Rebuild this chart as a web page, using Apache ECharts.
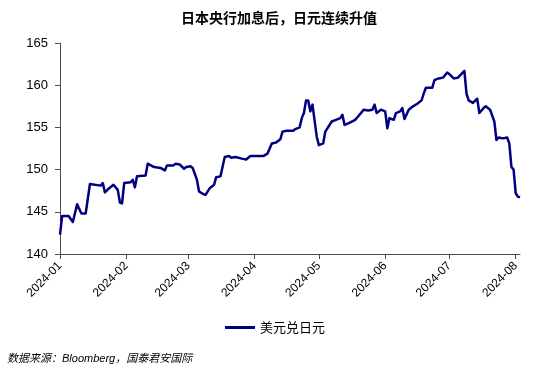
<!DOCTYPE html>
<html>
<head>
<meta charset="utf-8">
<script src="https://cdn.jsdelivr.net/npm/echarts@6/dist/echarts.min.js"></script>
<style>
    html, body {margin: 0; padding: 0; background: #fff;}
    #chart {width: 550px; height: 369px;}
</style>
</head>
<body>
<div id="chart"></div>
<script>
// USD/JPY daily close
const dates = [
    '2024-01-01', '2024-01-02', '2024-01-05', '2024-01-07', '2024-01-09', '2024-01-11', '2024-01-13',
    '2024-01-15', '2024-01-20', '2024-01-21', '2024-01-22', '2024-01-24', '2024-01-26', '2024-01-28',
    '2024-01-29', '2024-01-30', '2024-01-31', '2024-02-03', '2024-02-04', '2024-02-05', '2024-02-06',
    '2024-02-10', '2024-02-11', '2024-02-14', '2024-02-17', '2024-02-19', '2024-02-20', '2024-02-23',
    '2024-02-24', '2024-02-26', '2024-02-28', '2024-02-29', '2024-03-02', '2024-03-03', '2024-03-05',
    '2024-03-06', '2024-03-08', '2024-03-09', '2024-03-11', '2024-03-13', '2024-03-14', '2024-03-16',
    '2024-03-18', '2024-03-20', '2024-03-21', '2024-03-23', '2024-03-26', '2024-03-28', '2024-03-30',
    '2024-04-02', '2024-04-05', '2024-04-07', '2024-04-09', '2024-04-11', '2024-04-13', '2024-04-14',
    '2024-04-16', '2024-04-19', '2024-04-20', '2024-04-22', '2024-04-23', '2024-04-24', '2024-04-25',
    '2024-04-26', '2024-04-27', '2024-04-28', '2024-04-30', '2024-05-01', '2024-05-03', '2024-05-04',
    '2024-05-07', '2024-05-09', '2024-05-11', '2024-05-12', '2024-05-13', '2024-05-15', '2024-05-18',
    '2024-05-19', '2024-05-22', '2024-05-24', '2024-05-26', '2024-05-27', '2024-05-28', '2024-05-30',
    '2024-06-01', '2024-06-02', '2024-06-03', '2024-06-05', '2024-06-06', '2024-06-08', '2024-06-09',
    '2024-06-10', '2024-06-12', '2024-06-14', '2024-06-16', '2024-06-18', '2024-06-19', '2024-06-20',
    '2024-06-23', '2024-06-24', '2024-06-26', '2024-06-28', '2024-06-30', '2024-07-01', '2024-07-03',
    '2024-07-05', '2024-07-08', '2024-07-09', '2024-07-10', '2024-07-12', '2024-07-14', '2024-07-15',
    '2024-07-17', '2024-07-18', '2024-07-20', '2024-07-22', '2024-07-23', '2024-07-24', '2024-07-26',
    '2024-07-28', '2024-07-29', '2024-07-30', '2024-07-31', '2024-08-01', '2024-08-02', '2024-08-03'
];
const usdJpy = [
    142.3, 144.5, 144.5, 143.8, 145.9, 144.8, 144.8,
    148.3, 148.1, 148.4, 147.3, 147.8, 148.2, 147.6,
    146.1, 146.0, 148.4, 148.5, 148.8, 147.9, 149.2,
    149.3, 150.7, 150.3, 150.2, 149.9, 150.5, 150.5,
    150.7, 150.6, 150.1, 150.3, 150.4, 150.2, 148.8,
    147.4, 147.1, 147.0, 147.8, 148.2, 149.1, 149.2,
    151.5, 151.6, 151.4, 151.5, 151.3, 151.2, 151.6,
    151.6, 151.6, 151.9, 153.1, 153.2, 153.6, 154.5,
    154.6, 154.6, 154.8, 155.0, 156.1, 156.7, 158.2,
    158.2, 156.9, 157.7, 153.9, 152.9, 153.1, 154.5,
    155.7, 155.9, 156.1, 156.5, 155.3, 155.5, 155.9,
    156.2, 157.1, 157.0, 157.1, 157.7, 156.7, 157.1,
    156.9, 154.9, 156.1, 155.9, 156.7, 156.9, 157.3,
    156.0, 157.1, 157.5, 157.8, 158.2, 159.0, 159.7,
    159.7, 160.6, 160.8, 160.9, 161.5, 161.3, 160.8,
    160.9, 161.7, 159.0, 158.2, 157.9, 158.4, 156.7,
    157.3, 157.5, 157.1, 155.7, 153.5, 153.8, 153.7,
    153.8, 153.1, 150.3, 150.0, 147.2, 146.8, 146.7
];
const yTicks = {min: 140, max: 165, interval: 5};
const seriesName = '美元兑日元';
const titleText = '日本央行加息后，日元连续升值';
const sourceText = '数据来源：Bloomberg，国泰君安国际';

const DAY = 24 * 3600 * 1000;
const AXIS_COLOR = '#4d4d4d';
const chart = echarts.init(document.getElementById('chart'));

chart.setOption({
    animation: false,
    title: [{
        text: titleText,
        left: 176,
        top: 6,
        textStyle: {
            fontFamily: 'Noto Sans CJK SC',
            fontSize: 14,
            fontWeight: 'bold',
            color: '#000'
        }
    }, {
        text: sourceText,
        left: 2,
        top: 348,
        textStyle: {
            fontFamily: 'Liberation Sans, Noto Sans CJK SC',
            fontSize: 11,
            fontStyle: 'italic',
            fontWeight: 'normal',
            color: '#000'
        }
    }],
    legend: {
        data: [seriesName],
        left: 'center',
        top: 316,
        icon: 'rect',
        itemWidth: 30,
        itemHeight: 3,
        itemGap: 5,
        textStyle: {
            fontFamily: 'Noto Sans CJK SC',
            fontSize: 13,
            color: '#000'
        }
    },
    grid: {
        left: 60,
        right: 30,
        top: 43,
        bottom: 115
    },
    xAxis: {
        type: 'time',
        min: dates[0],
        max: dates[dates.length - 1],
        minInterval: 28 * DAY,
        maxInterval: 31 * DAY,
        splitNumber: 7,
        axisLine: {lineStyle: {color: AXIS_COLOR, width: 1}},
        axisTick: {show: true, length: 5, lineStyle: {color: AXIS_COLOR}},
        splitLine: {show: false},
        axisLabel: {
            rotate: 45,
            margin: 10,
            fontFamily: 'Liberation Sans',
            fontSize: 12,
            color: '#000',
            showMinLabel: true,
            showMaxLabel: false,
            formatter: v => echarts.time.format(v, '{yyyy}-{MM}', false)
        }
    },
    yAxis: {
        type: 'value',
        min: yTicks.min,
        max: yTicks.max,
        interval: yTicks.interval,
        axisLine: {show: true, lineStyle: {color: AXIS_COLOR, width: 1}},
        axisTick: {show: true, length: 5, lineStyle: {color: AXIS_COLOR}},
        splitLine: {show: false},
        axisLabel: {
            margin: 12,
            fontFamily: 'Liberation Sans',
            fontSize: 13,
            color: '#000'
        }
    },
    series: [{
        name: seriesName,
        type: 'line',
        data: dates.map((d, i) => [d, usdJpy[i]]),
        showSymbol: false,
        smooth: false,
        lineStyle: {color: '#000080', width: 2.5, join: 'round'},
        itemStyle: {color: '#000080'}
    }]
});
</script>
</body>
</html>
